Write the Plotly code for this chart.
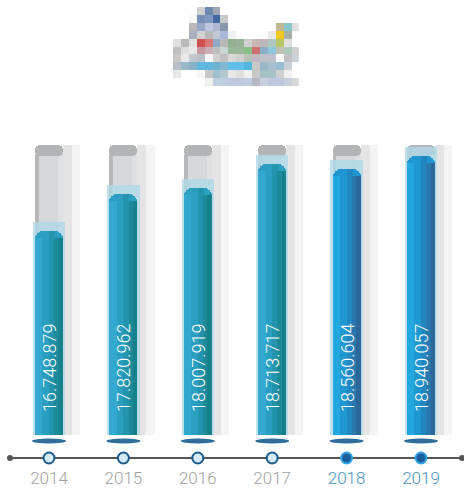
import plotly.graph_objects as go

# ---------------- data ----------------
years = ["2014", "2015", "2016", "2017", "2018", "2019"]
values = [16748879, 17820962, 18007919, 18713717, 18560604, 18940057]
value_labels = ["16.748.879", "17.820.962", "18.007.919", "18.713.717", "18.560.604", "18.940.057"]

# ---------------- layout geometry (pixel -> value mapping) ----------------
W, H = 464, 490
BASE = 10.7e6          # value at bar foot
BASE_PX = 435          # pixel row of bar foot
PX_PER_VAL = 33.8e-6   # pixels per unit


def val_at(py):
    return BASE + (BASE_PX - py) / PX_PER_VAL


def dv(px):
    return px / PX_PER_VAL


TRACK_TOP = val_at(145)
n = len(years)
hw = 0.188  # half bar width (category units)

teal = [i < 4 for i in range(n)]
c_left = ["#33a9cf" if t else "#22a8de" for t in teal]
c_mid = ["#2a9fc2" if t else "#1f98d2" for t in teal]
c_mid2 = ["#2394ad" if t else "#2287c0" for t in teal]
c_right = ["#1c8a99" if t else "#2878ae" for t in teal]
c_edge = ["#16818b" if t else "#2b6899" for t in teal]

fig = go.Figure()


def add_bar(y, base, width, offset, color, radius=0, text=None, **kw):
    fig.add_trace(go.Bar(
        x=years, y=y, base=base, width=width, offset=offset,
        marker=dict(color=color, line=dict(width=0), cornerradius=radius),
        text=text, hoverinfo="skip", showlegend=False, **kw))


track_h = [TRACK_TOP - BASE] * n
# soft shadows to the right of the tracks
add_bar(track_h, BASE, 0.23, hw, "#f4f4f4")
add_bar(track_h, BASE, 0.12, hw, "#e4e4e5")
# track body
add_bar(track_h, BASE, 2 * hw, -hw, "#d6d7d9", radius=8)
add_bar([TRACK_TOP - BASE - dv(10)] * n, BASE, 0.05, -hw, "#b7b8ba")
add_bar([TRACK_TOP - BASE - dv(10)] * n, BASE, 0.07, hw - 0.07, "#dfe0e1")
# track cap
add_bar([dv(11)] * n, [TRACK_TOP - dv(11)] * n, 2 * hw, -hw, "#b3b4b6", radius=8)
# glassy halo round the value bar
add_bar([v - BASE + dv(9) for v in values], BASE, 2 * hw + 0.06, -hw - 0.03,
        "rgba(175,217,232,0.8)")
# value bar with a stepped horizontal gradient
add_bar([v - BASE for v in values], BASE, 2 * hw, -hw, c_mid, radius=8)
add_bar([v - BASE - dv(7) for v in values], BASE, 0.10, -hw, c_left)
add_bar([v - BASE for v in values], BASE, 0.08, 0.0, c_mid2)
add_bar([v - BASE - dv(7) for v in values], BASE, 0.06, 0.07, c_right)
add_bar([v - BASE - dv(7) for v in values], BASE, 0.06, hw - 0.06, c_edge)
# value labels written up the bars
add_bar([v - BASE - dv(20) for v in values], BASE + dv(20), 2 * hw, -hw,
        "rgba(0,0,0,0)", text=value_labels, textposition="inside",
        insidetextanchor="start", textangle=-90, cliponaxis=False,
        textfont=dict(family="Roboto", size=18, color="white", weight=300))

# timeline markers
fig.add_trace(go.Scatter(
    x=years, y=[val_at(458)] * n, mode="markers", hoverinfo="skip", showlegend=False,
    marker=dict(size=11,
                color=["#d2ebf7"] * 4 + ["#1d5f9c"] * 2,
                line=dict(width=2, color=["#1b5a88"] * 4 + ["#33a4e6"] * 2))))
# year labels
fig.add_trace(go.Scatter(
    x=years, y=[val_at(480)] * n, mode="text", text=years, hoverinfo="skip",
    showlegend=False, cliponaxis=False,
    textfont=dict(family="Roboto", size=17, weight=300,
                  color=["#a2a2a2"] * 4 + ["#4896c0"] * 2)))

# ---------------- logo mosaic ----------------
Wt = "ffffff"
logo_rows = [
    [Wt, Wt, Wt, "d0d0d0", "7088b0", "a0a8b8", Wt, Wt, Wt, Wt, Wt, Wt, Wt, Wt, Wt, Wt],
    [Wt, Wt, "f8f8f8", "7890b8", "8098c0", "4068a0", "c8c8c8", Wt, Wt, Wt, Wt, Wt, Wt, Wt, Wt, Wt],
    [Wt, Wt, "b8b8b8", "98a8c8", "c0c8e0", "b0b8d0", "8898a8", Wt, Wt, Wt, Wt, Wt, Wt, "c0b890", "88c8c8", "e0e0e0"],
    [Wt, Wt, "a8b0c0", "d0d0d0", "b8b8b8", "c0c8d8", "a8b8d8", "f0f0f0", Wt, Wt, Wt, Wt, "e8e8e8", "f0c820", "a8b0a8", Wt],
    ["e0e0e0", "b8b8b8", "e0e0e0", "d05050", "d87878", "90a8c8", "b8b8b8", "90b090", "98b498", "d0d0d0", "c8b8b8", "c0b8b8", "b0c8c0", "b8c868", "e0e0e0", Wt],
    ["c0c0c0", "e0e0e0", "e8e8e8", "c898a0", "c8b0b8", "c0c0c0", "c8d8d0", "98b898", "98b898", "88c088", "d07070", "88b0c8", "90c8e0", "c0c0b0", "b0c8b8", "d0d0d0"],
    ["c8c8c8", "e8e8e8", "c0c8d0", "b8c0c8", "f8f8f8", "d0d0d0", "c0c0c0", "d8d8d8", "d0d0d0", "b8c0b8", "c0b8c0", "c0c0c8", "c0c0c8", "ffffff", "c0c0c8", "c8d0d8"],
    ["b8c0c8", "98b8c8", "88b0c8", "60b8e0", "60b8e0", "70b0d0", "80b8d0", "60c0e8", "60c0e8", "50b8e0", "c8c8c8", "98b8c8", "a8c0d0", "98c0d0", "c8d0d8", "ffffff"],
    ["e8e8e8", Wt, Wt, "f8f8f8", "c8c8c8", "a0c0d0", "b8c8d0", "e8e8e8", "e0e0e0", "f0f0f0", "c8c8c8", "a8c0c8", "a8c0c8", "d0d0d0", "f0f0f0", Wt],
    [Wt, Wt, Wt, Wt, "f0f0f0", "c0d0e0", "c0cce0", "c0c8e0", "c0c8e0", "c0cce0", "b8b8c0", "c8d0e0", "c0c8e0", "c0c8e0", "c8d0e0", "d8d8d8"],
]
logo_z = [[[int(c[i:i + 2], 16) for i in (0, 2, 4)] for c in row] for row in logo_rows]
fig.add_trace(go.Image(z=logo_z, xaxis="x2", yaxis="y2", hoverinfo="skip"))

# ---------------- decorations ----------------
shapes = []
for i in range(n):
    shapes.append(dict(type="circle", xref="x", yref="y", xsizemode="pixel",
                       ysizemode="pixel", xanchor=i, yanchor=val_at(441),
                       x0=-17, x1=17, y0=-2.6, y1=2.6,
                       fillcolor="#2f6e9a", line=dict(width=0), layer="above"))
shapes.append(dict(type="line", xref="paper", yref="y", x0=10 / W, x1=462 / W,
                   y0=val_at(458), y1=val_at(458), line=dict(color="#555555", width=2),
                   layer="below"))
for px in (10, 462):
    shapes.append(dict(type="circle", xref="paper", yref="y", xsizemode="pixel",
                       ysizemode="pixel", xanchor=px / W, yanchor=val_at(458),
                       x0=-3, x1=3, y0=-3, y1=3, fillcolor="#555555",
                       line=dict(width=0)))

fig.update_layout(
    width=W, height=H, margin=dict(l=0, r=0, t=0, b=0),
    paper_bgcolor="white", plot_bgcolor="white",
    barmode="overlay", bargap=0,
    shapes=shapes,
    xaxis=dict(type="category", range=[-49 / 74.4, 5 + 43 / 74.4], visible=False,
               fixedrange=True),
    yaxis=dict(range=[val_at(H), val_at(0)], visible=False, fixedrange=True),
    xaxis2=dict(domain=[170 / W, 302 / W], range=[-0.5, 15.5], visible=False,
                anchor="y2", scaleanchor=False),
    yaxis2=dict(domain=[1 - 86 / H, 1 - 7 / H], range=[9.5, -0.5], visible=False,
                anchor="x2"),
)

fig.write_html("out.html", config={"displayModeBar": False},
               post_script="document.body.style.margin='0';"
                           "document.body.style.overflow='hidden';")
